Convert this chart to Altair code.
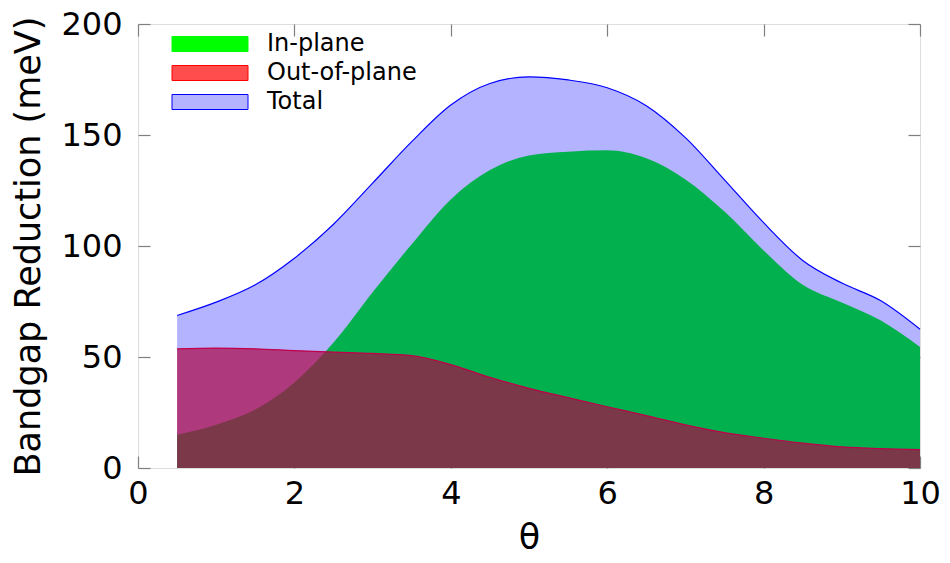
import altair as alt
import pandas as pd

theta = [0.5, 1.0, 1.5, 2.0, 2.5, 3.0, 3.5, 4.0, 4.5, 5.0,
         5.5, 6.0, 6.5, 7.0, 7.5, 8.0, 8.5, 9.0, 9.5, 10.0]
total = [68.7, 74.7, 82.5, 94.5, 109.8, 128.3, 147.0, 163.5, 173.2, 176.2,
         174.8, 171.3, 163.2, 148.8, 129.8, 110.5, 93.5, 83.3, 75.3, 62.5]
in_plane = [15.0, 19.5, 26.3, 38.5, 56.5, 79.2, 100.8, 121.0, 134.2, 140.8,
            142.5, 143.1, 139.5, 130.0, 115.5, 98.0, 82.5, 74.5, 66.4, 54.5]
out_plane = [53.7, 54.0, 53.7, 52.9, 52.2, 51.6, 50.6, 46.6, 40.8, 35.9,
             31.7, 27.6, 23.6, 19.4, 15.9, 13.4, 11.2, 9.5, 8.7, 8.3]

series_names = ["In-plane", "Out-of-plane", "Total"]
legend_fill = ["#00ff00", "#ff4d4d", "#b3b3ff"]
legend_stroke = ["#00ff00", "#ff0000", "#0000ff"]
x_ticks = [0, 2, 4, 6, 8, 10]
y_ticks = [0, 50, 100, 150, 200]

df = pd.DataFrame({"theta": theta, "total": total,
                   "inplane": in_plane, "outplane": out_plane})
leg_df = pd.DataFrame({"series": series_names})

W, H = 782, 444
FONT = "DejaVu Sans"
xs = alt.Scale(domain=[0, 10], nice=False, zero=False)
ys = alt.Scale(domain=[0, 200], nice=False)

ax_x_main = alt.Axis(values=x_ticks, title="θ", ticks=False, tickSize=0, domain=False,
                     labelFlush=False, labelOverlap=False,
                     labelFontSize=32, labelFont=FONT, labelColor="black", labelPadding=10,
                     titleFont=FONT, titleFontSize=35, titleFontWeight="normal",
                     titleColor="black", titlePadding=11, grid=False)
ax_y_main = alt.Axis(values=y_ticks, title="Bandgap Reduction (meV)", ticks=False, tickSize=0,
                     domain=False, labelFlush=False, labelOverlap=False,
                     labelFontSize=32, labelFont=FONT, labelColor="black",
                     labelPadding=16, titleFont=FONT, titleFontSize=35,
                     titleFontWeight="normal", titleColor="black", titlePadding=14, grid=False)

def tick_axis_x(orient):
    return alt.Axis(values=x_ticks, orient=orient, offset=-H, labels=False, title=None,
                    domain=False, ticks=True, tickSize=12, tickColor="#7f7f7f",
                    tickWidth=1.2, grid=False)

def tick_axis_y(orient):
    return alt.Axis(values=y_ticks, orient=orient, offset=-W, labels=False, title=None,
                    domain=False, ticks=True, tickSize=12, tickColor="#7f7f7f",
                    tickWidth=1.2, grid=False)

base = alt.Chart(df)

total_area = base.mark_area(color="#b3b3ff", interpolate="monotone", opacity=1).encode(
    x=alt.X("theta:Q", scale=xs, axis=ax_x_main),
    y=alt.Y("total:Q", scale=ys, axis=ax_y_main),
)
total_line = base.mark_line(color="#0000ff", strokeWidth=1.2, interpolate="monotone").encode(
    x=alt.X("theta:Q", scale=xs, axis=None),
    y=alt.Y("total:Q", scale=ys, axis=None),
)
in_area = base.mark_area(color="#03b04e", interpolate="monotone", opacity=1).encode(
    x=alt.X("theta:Q", scale=xs, axis=tick_axis_x("top")),
    y=alt.Y("inplane:Q", scale=ys, axis=tick_axis_y("right")),
)
out_area = base.mark_area(color="#ae0546", fillOpacity=0.7, interpolate="monotone").encode(
    x=alt.X("theta:Q", scale=xs, axis=tick_axis_x("bottom")),
    y=alt.Y("outplane:Q", scale=ys, axis=tick_axis_y("left")),
)
out_line = base.mark_line(color="#c0004a", strokeWidth=1.2, interpolate="monotone").encode(
    x=alt.X("theta:Q", scale=xs, axis=None),
    y=alt.Y("outplane:Q", scale=ys, axis=None),
)

legend = alt.Legend(orient="none", legendX=60, legendY=8, title=None,
                    symbolType="M-3.8,-0.75H3.8V0.75H-3.8Z", symbolSize=400,
                    symbolStrokeWidth=1, symbolOpacity=1, labelFont=FONT,
                    labelFontSize=24, labelColor="black", labelOffset=45,
                    rowPadding=5, padding=0, labelLimit=400)

legend_layer = alt.Chart(leg_df).transform_filter("false").mark_point(
    filled=True, opacity=1).encode(
    fill=alt.Fill("series:N", scale=alt.Scale(domain=series_names, range=legend_fill),
                  legend=legend),
    stroke=alt.Stroke("series:N", scale=alt.Scale(domain=series_names, range=legend_stroke),
                      legend=legend),
)

chart = alt.layer(total_area, total_line, in_area, out_area, out_line, legend_layer).resolve_axis(
    x="independent", y="independent"
).properties(
    width=W, height=H,
    autosize=alt.AutoSizeParams(type="none"),
    padding={"left": 130, "top": 16, "right": 20, "bottom": 92},
).configure_view(
    stroke="black", strokeWidth=1.5
).configure(background="white")

chart.save("out.html", embed_options={"renderer": "svg", "actions": False})
